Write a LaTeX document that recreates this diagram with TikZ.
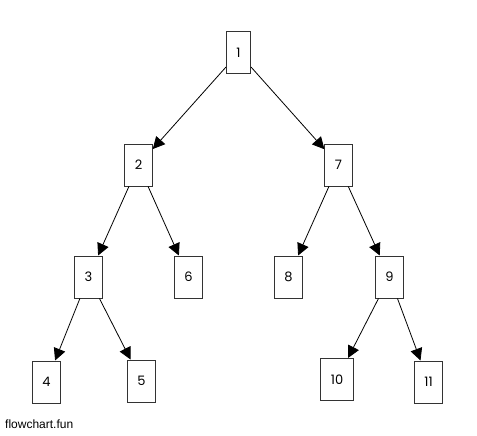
\documentclass[tikz,border=0pt]{standalone}
\usepackage{fontspec}
\setmainfont{Poppins}
\newfontfamily\markfont{Liberation Sans}
\usetikzlibrary{arrows.meta,positioning}
\tikzset{
  box/.style={draw=black!80, line width=1pt, minimum height=42pt,
    inner xsep=10pt, inner ysep=0pt, font=\fontsize{13}{15}\selectfont, fill=white},
  arr/.style={-{Triangle[length=12pt,width=12pt]}, line width=.8pt}
}
\begin{document}
\begin{tikzpicture}[on grid]
  \useasboundingbox (0,0) rectangle (477pt,-436pt);
  \node[box] (n1) at (238.5pt,-53pt) {1};
  \node[box, below left=112pt and 100pt of n1] (n2) {2};
  \node[box, below right=112pt and 100pt of n1] (n7) {7};
  \node[box, below left=112pt and 50pt of n2] (n3) {3};
  \node[box, below right=112pt and 50pt of n2] (n6) {6};
  \node[box, below left=112pt and 50pt of n7] (n8) {8};
  \node[box, below right=112pt and 51pt of n7] (n9) {9};
  \node[box, below left=105pt and 42pt of n3] (n4) {4};
  \node[box, below right=104pt and 53pt of n3] (n5) {5};
  \node[box, below left=102.5pt and 52.5pt of n9] (n10) {10};
  \node[box, below right=105pt and 39pt of n9] (n11) {11};
  \node[anchor=base west, inner sep=0pt, font=\markfont\fontsize{12}{14}\selectfont]
    (mark) at (5pt,-428pt) {flowchart.fun};

  \draw[arr] (n1) -- (n2);
  \draw[arr] (n1) -- (n7);
  \draw[arr] (n2) -- (n3);
  \draw[arr] (n2) -- (n6);
  \draw[arr] (n7) -- (n8);
  \draw[arr] (n7) -- (n9);
  \draw[arr] (n3) -- (n4);
  \draw[arr] (n3) -- (n5);
  \draw[arr] (n9) -- (n10);
  \draw[arr] (n9) -- (n11);
\end{tikzpicture}
\end{document}
